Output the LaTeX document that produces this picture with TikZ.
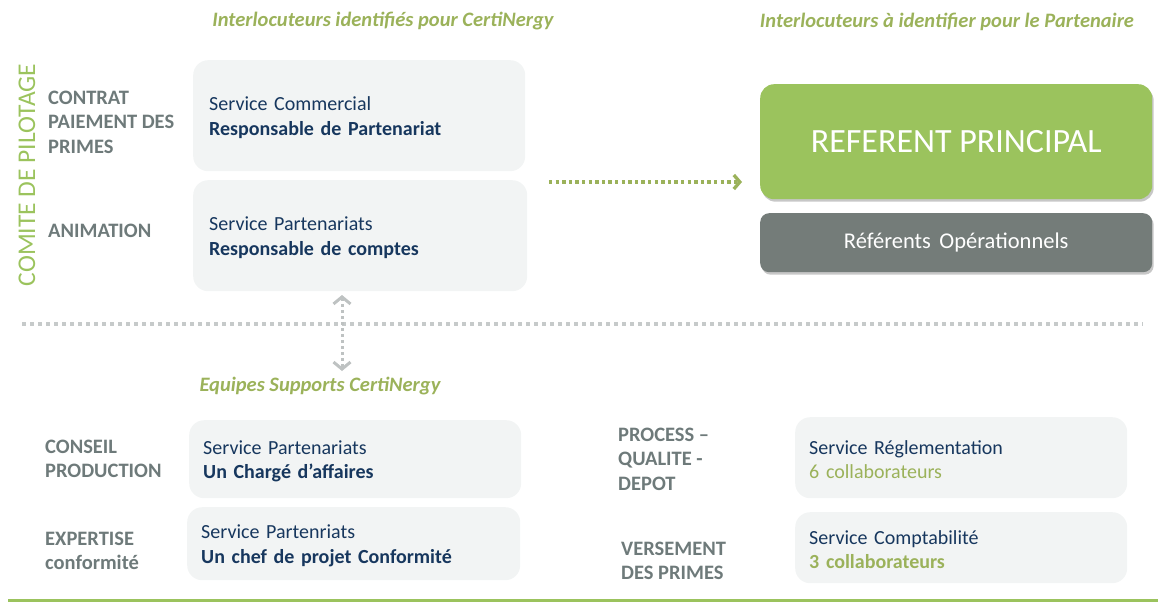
\documentclass[tikz,border=0pt]{standalone}
\usepackage{fontspec}
\setmainfont{Carlito}
\usetikzlibrary{arrows.meta,shadows}
\definecolor{boxfill}{RGB}{242,244,244}
\definecolor{navy}{RGB}{23,55,94}
\definecolor{lblgray}{RGB}{110,122,122}
\definecolor{hgreen}{RGB}{155,178,90}
\definecolor{bgreen}{RGB}{155,195,93}
\definecolor{dgray}{RGB}{116,124,121}
\definecolor{dotgray}{RGB}{198,202,202}
\definecolor{arrgray}{RGB}{190,194,194}
\newcommand{\topstrut}{\rule{0pt}{18pt}}
\begin{document}
\begin{tikzpicture}[x=1pt,y=-1pt,
  lightbox/.style={fill=boxfill, rounded corners=15pt, anchor=north west,
    inner xsep=16pt, inner ysep=0pt, align=left, text=navy,
    font=\fontsize{20}{24.5}\selectfont},
  lbl/.style={anchor=west, align=left, text=lblgray, inner sep=0pt,
    font=\bfseries\fontsize{20.5}{24.5}\selectfont},
  head/.style={text=hgreen, inner sep=0pt, font=\bfseries\itshape\fontsize{20.5}{24}\selectfont},
  shade/.style={drop shadow={shadow xshift=1.5pt, shadow yshift=-2.5pt, fill=black, opacity=0.22}}
]
\useasboundingbox (0,0) rectangle (1160,608);

% headings
\node[head] (h1) at (383,21) {Interlocuteurs identifiés pour CertiNergy};
\node[head] (h2) at (947,22) {Interlocuteurs à identifier pour le Partenaire};
\node[head] (h3) at (320,386) {Equipes Supports CertiNergy};

% vertical label
\node[rotate=90, text=bgreen, inner sep=0pt, font=\fontsize{25.5}{26}\selectfont] (cp) at (27,175) {COMITE DE PILOTAGE};

% left labels (top)
\node[lbl] (l1) at (48,122) {CONTRAT\\PAIEMENT DES\\PRIMES};
\node[lbl] (l2) at (48,231) {ANIMATION};

% top light boxes
\node[lightbox, minimum width=332pt, minimum height=111pt, text width=300pt] (b1) at (193,60)
  {\topstrut Service Commercial\\\textbf{Responsable de Partenariat}};
\node[lightbox, minimum width=334pt, minimum height=111pt, text width=302pt] (b2) at (193,180)
  {\topstrut Service Partenariats\\\textbf{Responsable de comptes}};

% partner boxes
\node[fill=bgreen, rounded corners=14pt, minimum width=392pt, minimum height=115pt,
  anchor=north west, shade, text=white, font=\fontsize{34}{34}\selectfont] (rp) at (760,84)
  {REFERENT PRINCIPAL};
\node[fill=dgray, rounded corners=9pt, minimum width=392pt, minimum height=59pt,
  anchor=north west, shade, text=white, font=\fontsize{22.5}{24}\selectfont] (ro) at (760,213)
  {Référents\hspace{0.15em} Opérationnels};

% green dotted arrow
\coordinate (ga) at (549,182);
\coordinate (gb) at ([xshift=-18pt]rp.west |- ga);
\draw[hgreen, line width=3.3pt, dash pattern=on 3.3pt off 3.3pt,
  -{Straight Barb[length=6pt,width=14pt]}] (ga) -- (gb);

% separator
\coordinate (s1) at (22,324);
\coordinate (s2) at (1143,324);
\draw[dotgray, line width=4pt, dash pattern=on 4pt off 4pt] (s1) -- (s2);

% vertical double arrow
\coordinate (va1) at (342,295);
\coordinate (va2) at (342,371);
\draw[arrgray, line width=3pt, dash pattern=on 3pt off 3pt,
  {Straight Barb[length=7pt,width=17pt]}-{Straight Barb[length=7pt,width=17pt]}] (va1) -- (va2);

% bottom labels
\node[lbl] (l3) at (45,459) {CONSEIL\\PRODUCTION};
\node[lbl] (l4) at (45,551) {EXPERTISE\\conformité};
\node[lbl] (l5) at (618,459) {PROCESS –\\QUALITE -\\DEPOT};
\node[lbl] (l6) at (621,561) {VERSEMENT\\DES PRIMES};

% bottom light boxes
\node[lightbox, minimum width=332pt, minimum height=78pt, text width=304pt, inner xsep=14pt] (b3) at (189,420)
  {\topstrut Service Partenariats\\\textbf{Un Chargé d’affaires}};
\node[lightbox, minimum width=333pt, minimum height=73pt, text width=305pt, inner xsep=14pt] (b4) at (187,507)
  {\topstrut Service Partenriats\\\textbf{Un chef de projet Conformité}};
\node[lightbox, minimum width=332pt, minimum height=81pt, text width=304pt, inner xsep=14pt] (b5) at (795,417)
  {\topstrut Service Réglementation\\\textcolor{hgreen}{6 collaborateurs}};
\node[lightbox, minimum width=332pt, minimum height=71pt, text width=304pt, inner xsep=14pt] (b6) at (795,512)
  {\topstrut Service Comptabilité\\\textcolor{hgreen}{\textbf{3 collaborateurs}}};

% bottom rule
\coordinate (r1) at (8,600.5);
\coordinate (r2) at (1158,600.5);
\draw[bgreen, line width=3pt] (r1) -- (r2);
\end{tikzpicture}
\end{document}
